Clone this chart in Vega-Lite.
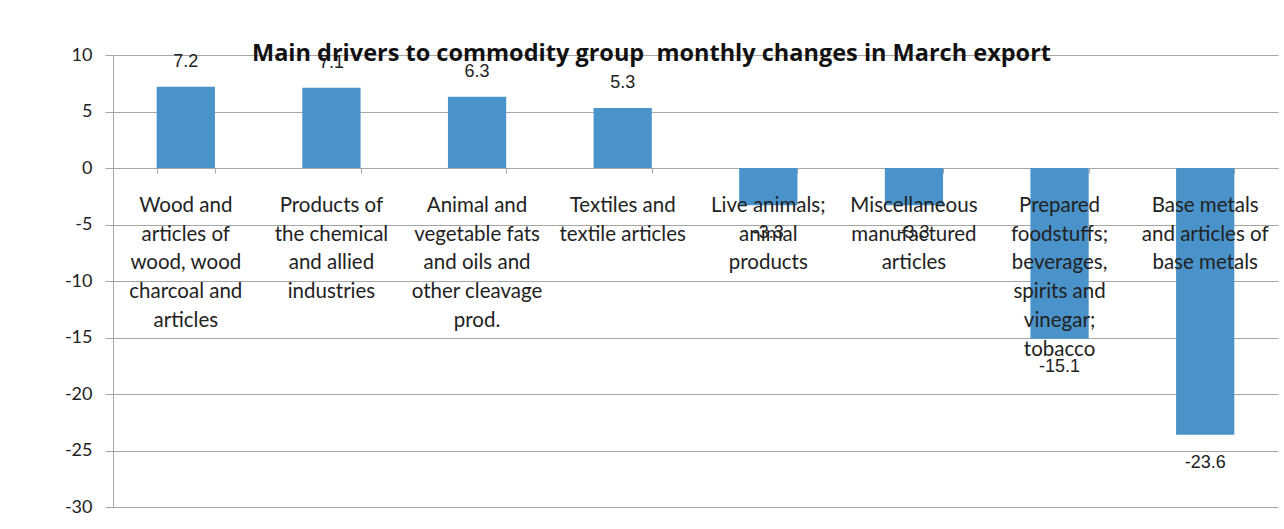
{
  "$schema": "https://vega.github.io/schema/vega-lite/v6.json",
  "width": 1165,
  "height": 452,
  "autosize": {"type": "none"},
  "padding": {"left": 113, "top": 55, "right": 6, "bottom": 22},
  "background": "white",
  "title": {
    "text": "Main drivers to commodity group \u00a0monthly changes in March export",
    "font": "Open Sans",
    "fontSize": 23.5,
    "fontWeight": "bold",
    "color": "#111111",
    "anchor": "middle",
    "frame": "group",
    "dx": -44,
    "offset": -19
  },
  "config": {
    "view": {"stroke": null},
    "axis": {"labelFont": "Lato", "labelColor": "#222222"}
  },
  "data": {
    "values": [
      {"category": "Wood and\narticles of\nwood, wood\ncharcoal and\narticles", "value": 7.2},
      {"category": "Products of\nthe chemical\nand allied\nindustries", "value": 7.1},
      {"category": "Animal and\nvegetable fats\nand oils and\nother cleavage\nprod.", "value": 6.3},
      {"category": "Textiles and\ntextile articles", "value": 5.3},
      {"category": "Live animals;\nanimal\nproducts", "value": -3.3},
      {"category": "Miscellaneous\nmanufactured\narticles", "value": -3.3},
      {"category": "Prepared\nfoodstuffs;\nbeverages,\nspirits and\nvinegar;\ntobacco", "value": -15.1},
      {"category": "Base metals\nand articles of\nbase metals", "value": -23.6}
    ]
  },
  "encoding": {
    "x": {
      "field": "category",
      "type": "nominal",
      "sort": null,
      "scale": {"paddingInner": 0.6, "paddingOuter": 0.3},
      "axis": {
        "orient": "bottom",
        "offset": -339,
        "title": null,
        "labels": false,
        "domainColor": "#a6a6a6",
        "tickColor": "#a6a6a6",
        "tickBand": "extent",
        "tickSize": 5,
        "grid": false
      }
    }
  },
  "layer": [
    {
      "mark": {"type": "bar", "color": "#4a92ca"},
      "encoding": {
        "y": {
          "field": "value",
          "type": "quantitative",
          "scale": {"domain": [-30, 10], "nice": false},
          "axis": {
            "title": null,
            "values": [-30, -25, -20, -15, -10, -5, 0, 5, 10],
            "labelExpr": "toString(datum.value)",
            "grid": true,
            "gridColor": "#a6a6a6",
            "domainColor": "#a6a6a6",
            "tickColor": "#a6a6a6",
            "tickSize": 8,
            "labelFontSize": 18,
            "labelPadding": 13
          }
        }
      }
    },
    {
      "transform": [{"filter": "datum.value > 0"}],
      "mark": {"type": "text", "font": "Liberation Sans", "fontSize": 18, "color": "#222222", "dy": -25, "baseline": "middle"},
      "encoding": {
        "y": {"field": "value", "type": "quantitative"},
        "text": {"field": "value", "type": "nominal"}
      }
    },
    {
      "transform": [{"filter": "datum.value < 0"}],
      "mark": {"type": "text", "font": "Liberation Sans", "fontSize": 18, "color": "#222222", "dy": 28, "baseline": "middle"},
      "encoding": {
        "y": {"field": "value", "type": "quantitative"},
        "text": {"field": "value", "type": "nominal"}
      }
    },
    {
      "mark": {"type": "text", "font": "Lato", "fontSize": 20.5, "color": "#222222", "lineBreak": "\n", "lineHeight": 28.7, "baseline": "middle", "dy": 38},
      "encoding": {
        "y": {"datum": 0},
        "text": {"field": "category"}
      }
    }
  ]
}
